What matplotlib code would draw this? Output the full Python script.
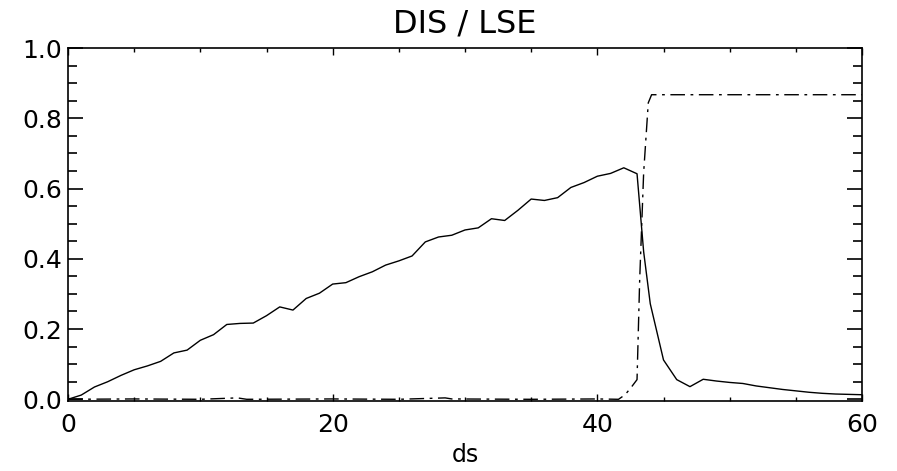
import matplotlib
matplotlib.use("Agg")
import matplotlib.pyplot as plt
from matplotlib.ticker import MultipleLocator

# solid line (DIS)
dis_x = [0, 1, 2, 3, 4, 5, 6, 7, 8, 9, 10, 11, 12, 13, 14, 15, 16, 17, 18, 19, 20,
         21, 22, 23, 24, 25, 26, 27, 28, 29, 30, 31, 32, 33, 34, 35, 36, 37, 38, 39, 40,
         41, 42, 43, 43.5, 44, 45, 46, 47, 48, 49, 50, 51, 52, 53, 54, 55, 56, 57, 58, 59, 60]
dis_y = [0.0, 0.012, 0.035, 0.05, 0.068, 0.084, 0.095, 0.108, 0.132, 0.14, 0.168,
         0.184, 0.213, 0.216, 0.217, 0.238, 0.263, 0.254, 0.287, 0.302, 0.328,
         0.332, 0.349, 0.363, 0.382, 0.394, 0.408, 0.448, 0.462, 0.467, 0.482,
         0.488, 0.514, 0.509, 0.538, 0.570, 0.566, 0.574, 0.603, 0.617, 0.635,
         0.643, 0.659, 0.642, 0.42, 0.272, 0.112, 0.056, 0.036, 0.057, 0.052,
         0.048, 0.045, 0.038, 0.033, 0.028, 0.024, 0.020, 0.017, 0.015, 0.014, 0.013]

# dash-dot line (LSE)
lse_x = [0, 5, 10, 12.8, 13.5, 20, 25, 28.5, 29, 35, 40, 41.6, 42.1, 42.6, 43.0, 43.2, 43.5, 43.85, 44.1, 60]
lse_y = [0.0, 0.001, 0.0, 0.004, 0.0, 0.001, 0.0, 0.004, 0.001, 0.0, 0.001, 0.0,
         0.013, 0.036, 0.056, 0.34, 0.645, 0.844, 0.867, 0.867]

title = "DIS / LSE"
xlabel = "ds"
xticks = [0, 20, 40, 60]
yticks = [0.0, 0.2, 0.4, 0.6, 0.8, 1.0]
ytick_labels = ["0.0", "0.2", "0.4", "0.6", "0.8", "1.0"]

plt.rcParams['font.family'] = ['DejaVu Sans']

fig = plt.figure(figsize=(8.97, 4.71), dpi=100)
ax = fig.add_axes([68/897, 1 - 400.7/471, (862-68)/897, (400.7-48)/471])

ax.plot(dis_x, dis_y, color='black', lw=1.0)
ax.plot(lse_x, lse_y, color='black', lw=1.0, linestyle=(0, (10.5, 4.0, 2.0, 4.0)))

ax.set_xlim(0, 60)
ax.set_ylim(-0.004, 1.0)
ax.set_xticks(xticks)
ax.set_xticklabels([str(v) for v in xticks])
ax.set_yticks(yticks)
ax.set_yticklabels(ytick_labels)
ax.xaxis.set_minor_locator(MultipleLocator(5))
ax.yaxis.set_minor_locator(MultipleLocator(0.05))

for s in ax.spines.values():
    s.set_linewidth(1.2)

ax.tick_params(axis='x', which='major', direction='in', length=5.0, width=1.0,
               top=True, bottom=True, labelsize=18, pad=9)
ax.tick_params(axis='x', which='minor', direction='in', length=3.0, width=1.0,
               top=True, bottom=True)
ax.tick_params(axis='y', which='major', direction='in', length=11, width=1.2,
               left=True, right=True, labelsize=18, pad=4)
ax.tick_params(axis='y', which='minor', direction='in', length=6.5, width=1.2,
               left=True, right=True)

ax.set_xlabel(xlabel, fontsize=17, labelpad=4)
ax.set_title(title, fontsize=23, pad=11)

fig.savefig("out.png", dpi=100)
